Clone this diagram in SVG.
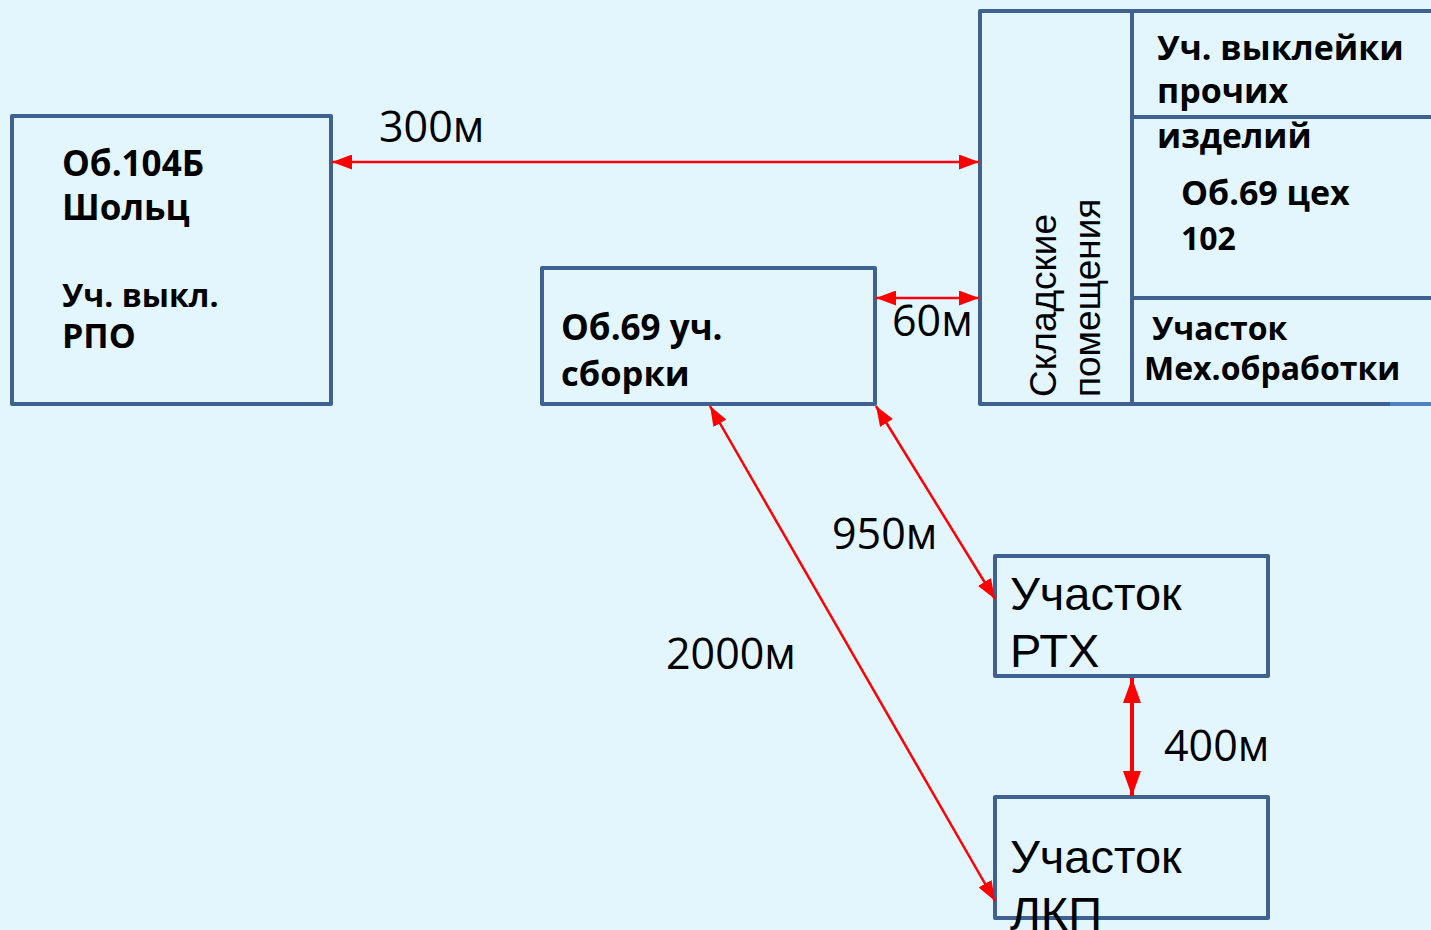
<svg xmlns="http://www.w3.org/2000/svg" width="1431" height="930" viewBox="0 0 1431 930">
<defs>
<style>
.box{fill:#E3F6FE;stroke:#3F6190;stroke-width:4;stroke-linejoin:round}
.div{stroke:#3F6190;stroke-width:4;fill:none}
.b{font-family:"Open Sans","Liberation Sans",sans-serif;font-weight:bold;font-size:34px;fill:#000}
.r{font-family:"Liberation Sans",Arial,sans-serif;font-size:47px;fill:#000}
.v{font-family:"Liberation Sans",Arial,sans-serif;font-size:37px;fill:#000}
.lbl{font-family:"Open Sans","Liberation Sans",sans-serif;font-size:43px;fill:#000}
.con{stroke:#FF0000;stroke-width:2.5;fill:none;marker-start:url(#ah);marker-end:url(#ah)}
.con2{stroke:#FF0000;stroke-width:4;fill:none;marker-start:url(#ah2);marker-end:url(#ah2)}
</style>
<marker id="ah" markerUnits="userSpaceOnUse" markerWidth="20" markerHeight="15" refX="20" refY="7.5" orient="auto-start-reverse">
<path d="M0,0 L20,7.5 L0,15 z" fill="#FF0000"/>
</marker>
<marker id="ah2" markerUnits="userSpaceOnUse" markerWidth="25" markerHeight="18" refX="25" refY="9" orient="auto-start-reverse">
<path d="M0,0 L25,9 L0,18 z" fill="#FF0000"/>
</marker>
</defs>
<rect x="0" y="0" width="1431" height="930" fill="#E3F6FE"/>

<g id="node-ob104">
<rect class="box" x="12" y="116" width="319" height="288"/>
<text class="b" x="62" y="176" style="font-size:35px">Об.104Б</text>
<text class="b" x="62" y="220" style="font-size:35px">Шольц</text>
<text class="b" x="62" y="307" style="font-size:32px">Уч. выкл.</text>
<text class="b" x="62" y="348">РПО</text>
</g>

<g id="node-complex">
<rect class="box" x="980" y="11" width="470" height="393"/>
<line class="div" x1="1132" y1="11" x2="1132" y2="404"/>
<line class="div" x1="1132" y1="117" x2="1450" y2="117"/>
<line class="div" x1="1132" y1="298" x2="1450" y2="298"/>
<line x1="1390" y1="404" x2="1431" y2="404" stroke="#4F7FBF" stroke-width="4"/>
<text class="v" transform="translate(1056,397) rotate(-90)">Складские</text>
<text class="v" transform="translate(1100,397) rotate(-90)">помещения</text>
<text class="b" x="1157" y="60">Уч. выклейки</text>
<text class="b" x="1157" y="103">прочих</text>
<text class="b" x="1157" y="148" style="font-size:33.5px">изделий</text>
<text class="b" x="1181" y="205">Об.69 цех</text>
<text class="b" x="1181" y="250" style="font-size:32px">102</text>
<text class="b" x="1152" y="340" style="font-size:32px">Участок</text>
<text class="b" x="1144" y="380" style="font-size:32px">Мех.обработки</text>
</g>

<g id="node-ob69">
<rect class="box" x="542" y="268" width="333" height="136"/>
<text class="b" x="561" y="340" style="font-size:35px">Об.69 уч.</text>
<text class="b" x="561" y="386" style="font-size:34.5px">сборки</text>
</g>

<g id="node-rtx">
<rect class="box" x="995" y="556" width="273" height="120"/>
<text class="r" x="1010" y="610">Участок</text>
<text class="r" x="1010" y="667">РТХ</text>
</g>

<g id="node-lkp">
<rect class="box" x="995" y="797" width="273" height="121"/>
<text class="r" x="1010" y="873">Участок</text>
<text class="r" x="1010" y="930">ЛКП</text>
</g>

<g id="connectors">
<line class="con" x1="332" y1="162" x2="979" y2="162"/>
<line class="con" x1="876" y1="298" x2="979" y2="298"/>
<line class="con" x1="876" y1="406" x2="995" y2="599"/>
<line class="con" x1="710" y1="406" x2="995" y2="901"/>
<line class="con2" x1="1132" y1="678" x2="1132" y2="796"/>
<text class="lbl" x="379" y="142">300м</text>
<text class="lbl" x="892" y="336">60м</text>
<text class="lbl" x="832" y="549">950м</text>
<text class="lbl" x="666" y="669">2000м</text>
<text class="lbl" x="1164" y="761">400м</text>
</g>
</svg>
